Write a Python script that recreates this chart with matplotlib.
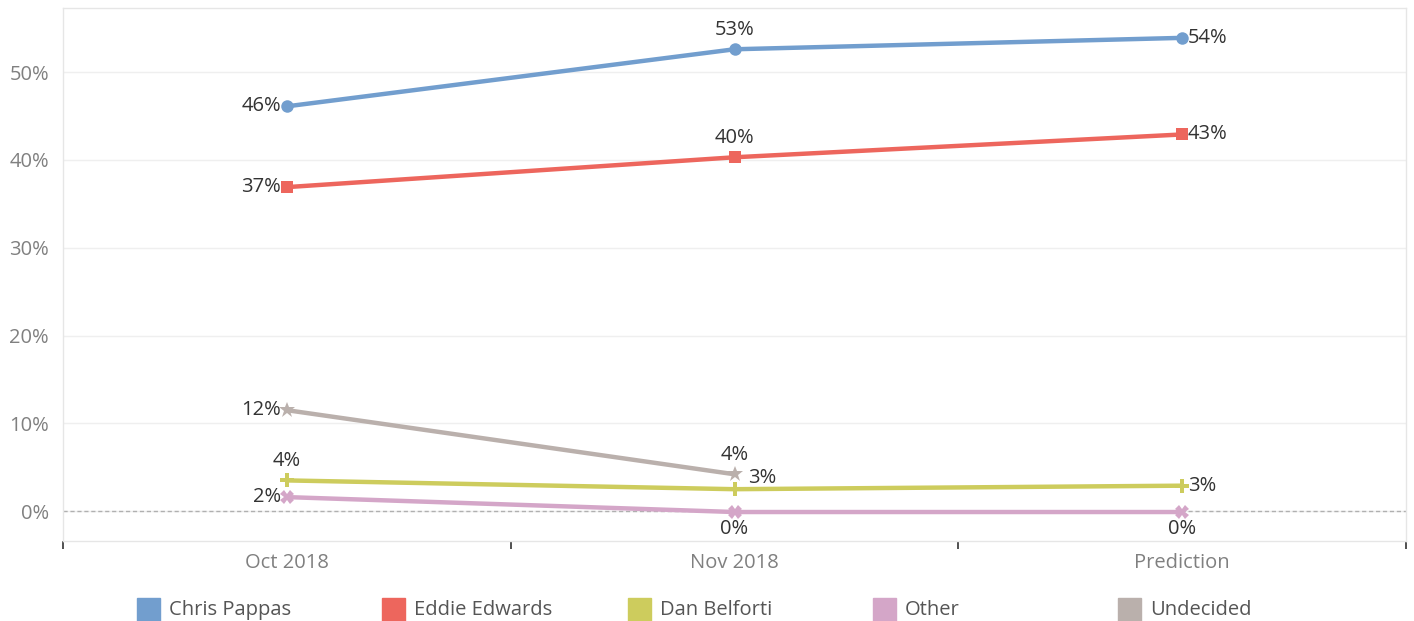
import matplotlib.pyplot as plt
from matplotlib.patches import Rectangle

plt.rcParams['font.family'] = ['Open Sans', 'DejaVu Sans']

# ---------------------------------------------- Data ----------------------------------------------
periods = ['Oct 2018', 'Nov 2018', 'Prediction']
candidates = ['Chris Pappas', 'Eddie Edwards', 'Dan Belforti', 'Other', 'Undecided']

pappas = [0.461, 0.526, 0.539]
edwards = [0.369, 0.403, 0.429]
belforti = [0.035, 0.025, 0.029]
other = [0.016, -0.001, -0.001]
undecided = [0.115, 0.042]

labels_pappas = ['46%', '53%', '54%']
labels_edwards = ['37%', '40%', '43%']
labels_belforti = ['4%', '3%', '3%']
labels_other = ['2%', '0%', '0%']
labels_undecided = ['12%', '4%']

# ---------------------------------------------- Styles --------------------------------------------
colors = ['#729ECE', '#ED665D', '#CDCC5D', '#D4A6C8', '#BAB0AC']
markers = ['o', 's', 'P', 'X', '*']
msizes = [9, 9, 10, 10, 12]
series = [pappas, edwards, belforti, other, undecided]
series_labels = [labels_pappas, labels_edwards, labels_belforti, labels_other, labels_undecided]

# label placement (offset in points, alignment)
L = ((-4, 0), 'right', 'center')
R = ((4, 0), 'left', 'center')
U = ((0, 7), 'center', 'bottom')
D = ((0, -5), 'center', 'top')
UR = ((10, 8), 'left', 'center')
placement = [
    [L, U, R],
    [L, U, R],
    [U, UR, R],
    [L, D, D],
    [L, U],
]

fig = plt.figure(figsize=(14.14, 6.21), dpi=100)
ax = fig.add_axes([63 / 1414, 1 - 541 / 621, (1406 - 63) / 1414, (541 - 8) / 621])

for vals, labs, col, mk, ms, place in zip(series, series_labels, colors, markers, msizes, placement):
    xs = list(range(len(vals)))
    ax.plot(xs, vals, color=col, linewidth=3.2, marker=mk, markersize=ms,
            markeredgewidth=0, solid_capstyle='round', zorder=3)
    for x, v, t, (off, ha, va) in zip(xs, vals, labs, place):
        ax.annotate(t, (x, v), xytext=off, textcoords='offset points',
                    ha=ha, va=va, fontsize=14.5, color='#333333', zorder=4)

ax.set_xlim(-0.5, 2.5)
ax.set_ylim(-0.034, 0.573)

ax.set_yticks([0, 0.1, 0.2, 0.3, 0.4, 0.5])
ax.set_yticklabels(['0%', '10%', '20%', '30%', '40%', '50%'])
ax.tick_params(axis='y', length=0, pad=10, labelsize=14.5, labelcolor='#808080')
ax.grid(axis='y', color='#efefef', linewidth=1)
ax.axhline(0, color='#b0b0b0', linewidth=1, linestyle=(0, (3, 2)), zorder=2)
ax.set_axisbelow(True)

ax.set_xticks([-0.5, 0.5, 1.5, 2.5])
ax.set_xticklabels([])
ax.set_xticks([0, 1, 2], minor=True)
ax.set_xticklabels(periods, minor=True)
ax.tick_params(axis='x', which='major', length=6, width=1.2, color='#333333')
ax.tick_params(axis='x', which='minor', length=0, pad=9, labelsize=14.5, labelcolor='#808080')

for s in ax.spines.values():
    s.set_color('#e6e6e6')
    s.set_linewidth(1)

# ---------------------------------------------- Legend --------------------------------------------
for i, (name, col) in enumerate(zip(candidates, colors)):
    x0 = (137 + 245.3 * i) / 1414
    fig.add_artist(Rectangle((x0, 0), 23 / 1414, 23 / 621,
                             transform=fig.transFigure, color=col, clip_on=False))
    fig.text(x0 + 32 / 1414, 1 - 610 / 621, name, fontsize=14.5, color='#555555',
             ha='left', va='center')

fig.savefig('out.png', dpi=100)
